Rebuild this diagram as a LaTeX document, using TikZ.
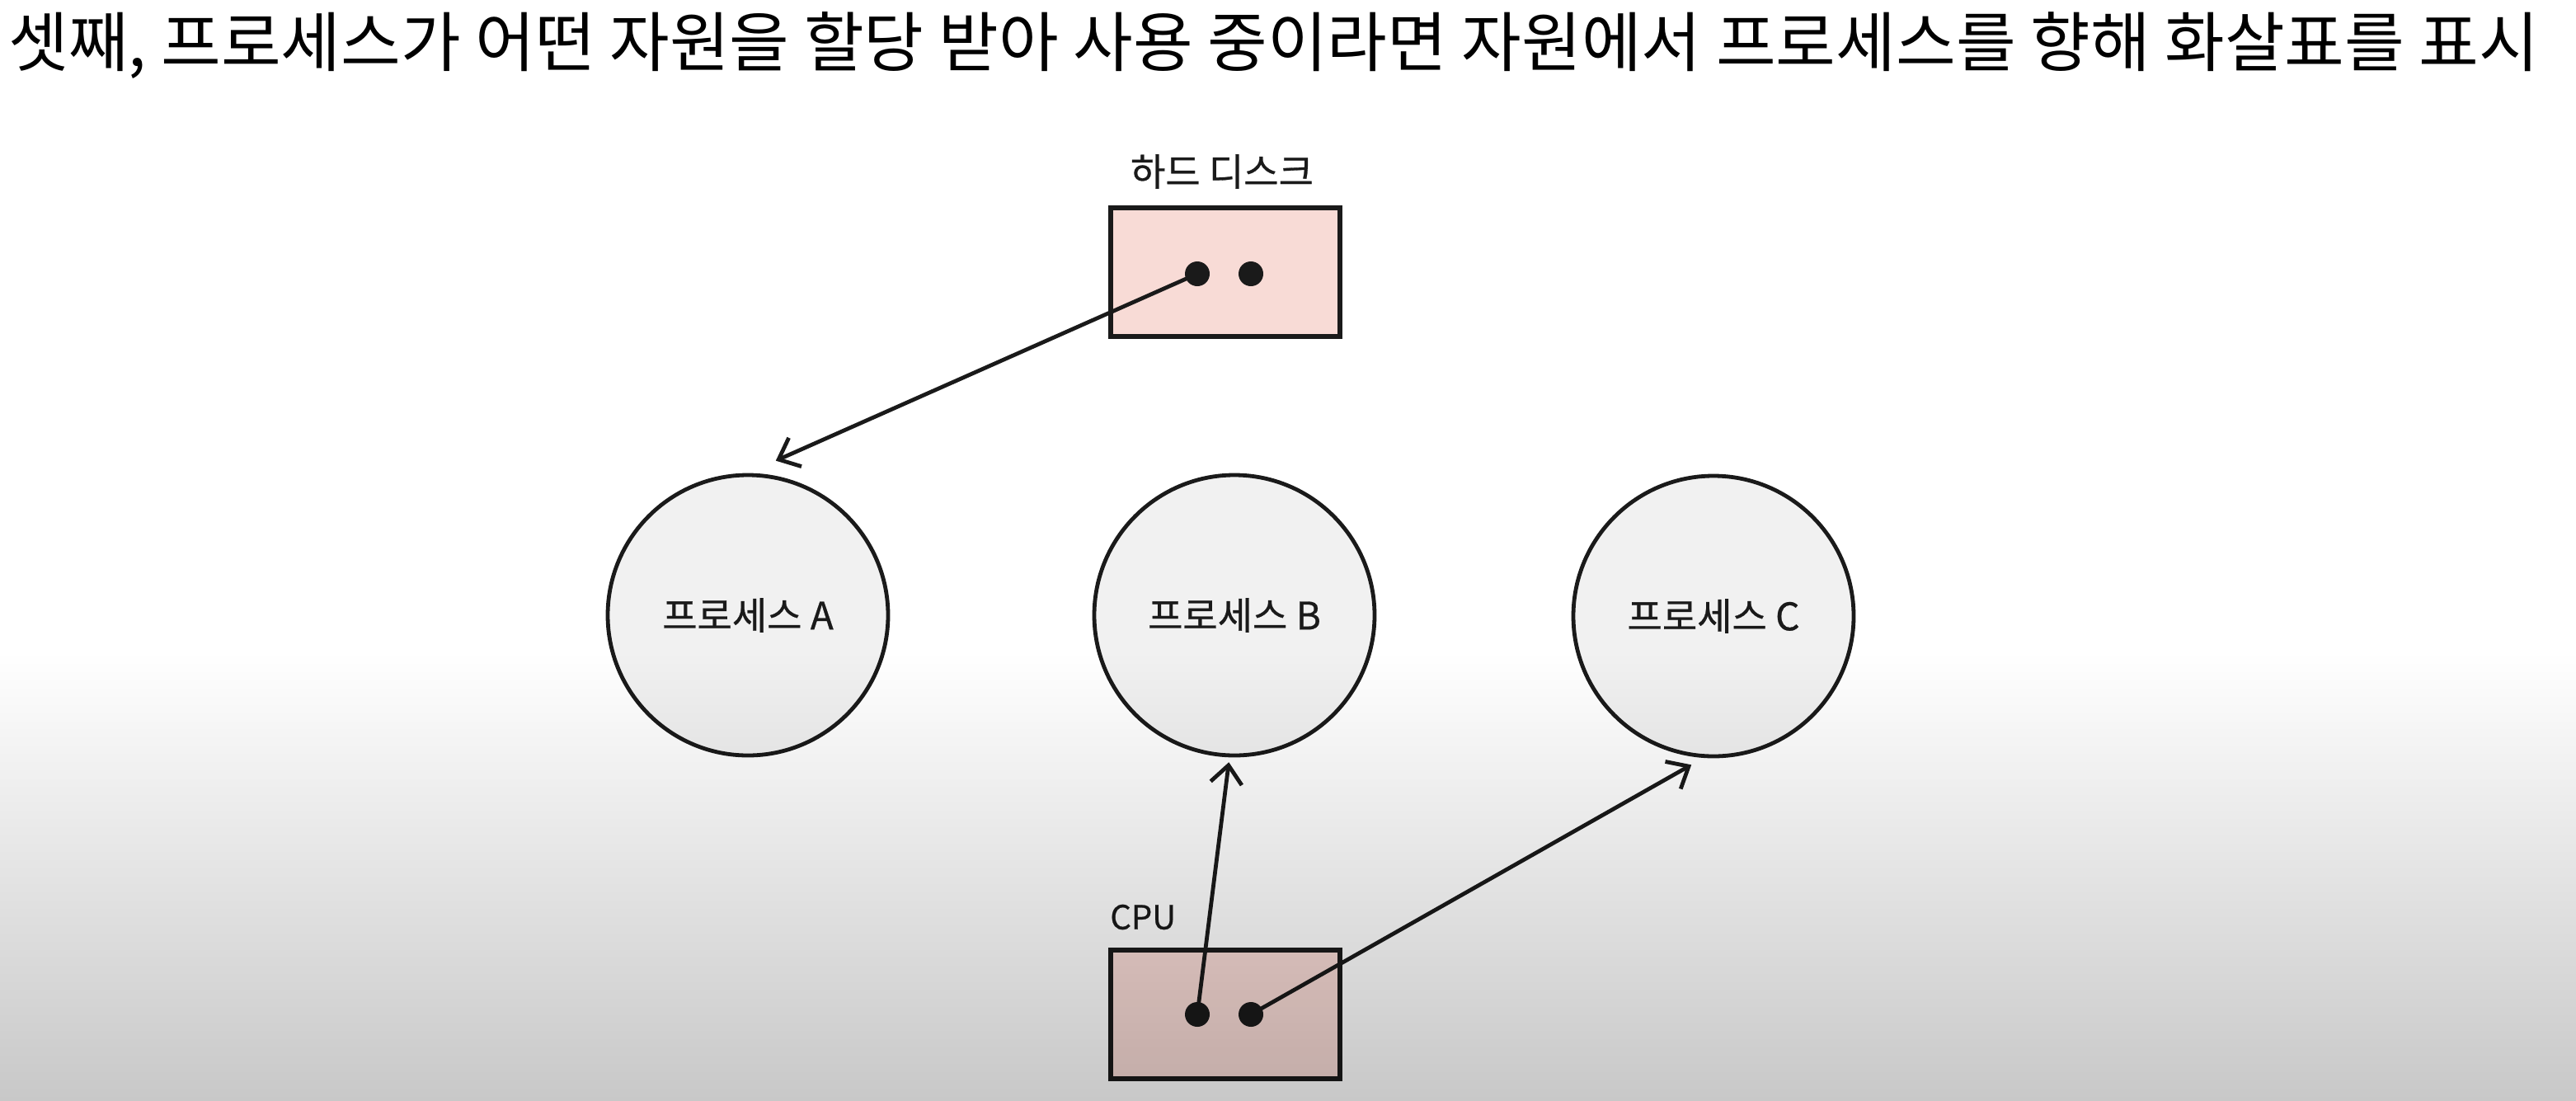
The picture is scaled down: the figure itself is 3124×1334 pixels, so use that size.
\documentclass[tikz,border=0pt]{standalone}
\usepackage{fontspec}
\setmainfont{Noto Sans CJK KR}
\newfontfamily\lblfont[FakeBold=0.6]{Noto Sans CJK KR}
\usetikzlibrary{arrows.meta}
\definecolor{hdfill}{HTML}{F8DBD6}
\definecolor{circfill}{HTML}{F1F1F1}
\definecolor{ink}{HTML}{1A1A1A}
\definecolor{bggray}{HTML}{C8C8C8}
\begin{document}
\begin{tikzpicture}[x=0.5pt,y=-0.5pt,
  res/.style={draw=ink, line width=2.8pt, fill=hdfill, minimum width=139pt, minimum height=78pt, inner sep=0pt},
  proc/.style={circle, draw=ink, line width=2.4pt, fill=circfill, minimum size=170pt, inner sep=0pt, font=\lblfont\fontsize{23}{26}\selectfont, text=ink},
  rdot/.style={circle, fill=ink, minimum size=15pt, inner sep=0pt},
  lbl/.style={font=\lblfont\fontsize{23}{26}\selectfont, text=ink, inner sep=0pt},
  alloc/.style={draw=ink, line width=2.4pt, -{Straight Barb[length=11pt,width=19pt,line width=2.4pt]}}]
\useasboundingbox (0,0) rectangle (3124,1334);
\fill[white] (0,0) rectangle (3124,1334);

\node[anchor=base west, inner sep=0pt, font=\fontsize{39.5}{44}\selectfont] (title) at (10,80)
  {셋째, 프로세스가 어떤 자원을 할당 받아 사용 중이라면 자원에서 프로세스를 향해 화살표를 표시};

\node[lbl] (hdlabel) at (1482,208) {하드 디스크};
\node[res] (hd) at (1486,330) {};
\node[rdot] (hd1) at (1452,332) {};
\node[rdot] (hd2) at (1517,332) {};

\node[proc] (A) at (907,746) {프로세스 A};
\node[proc] (B) at (1497,746) {프로세스 B};
\node[proc] (C) at (2078,747) {프로세스 C};

\node[lbl, anchor=west, font=\lblfont\fontsize{20}{24}\selectfont] (cpulabel) at (1346,1112) {CPU};
\node[res] (cpu) at (1486,1230) {};
\node[rdot] (cpu1) at (1452,1230) {};
\node[rdot] (cpu2) at (1517,1230) {};

\draw[alloc, shorten >=18.5pt] (hd1.center) -- (A.north);
\draw[alloc, shorten >=3pt] (cpu1.center) -- (B.268);
\draw[alloc, shorten >=8.5pt] (cpu2.center) -- (C.266);

\begin{scope}[blend mode=multiply]
  \shade[top color=white, bottom color=bggray] (0,790) rectangle (3124,1334);
\end{scope}
\end{tikzpicture}
\end{document}
